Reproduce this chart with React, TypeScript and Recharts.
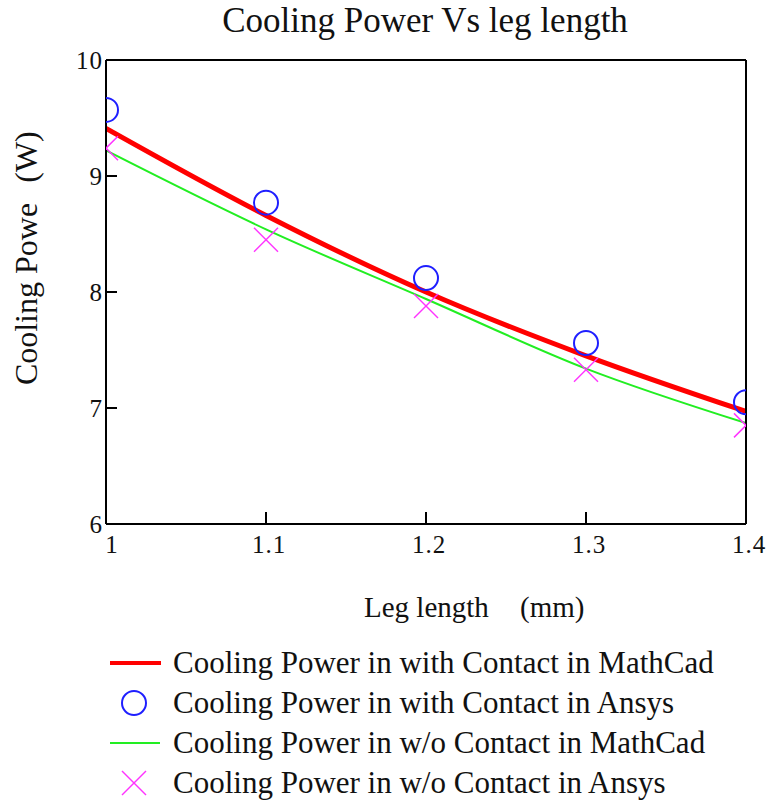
import { ComposedChart, Line, Scatter, XAxis, YAxis } from "recharts";

const legLength = [1, 1.1, 1.2, 1.3, 1.4];
const withContactMathCad = [9.41, 8.66, 8.0, 7.45, 6.97];
const withContactAnsys = [9.57, 8.77, 8.12, 7.56, 7.05];
const withoutContactMathCad = [9.22, 8.54, 7.94, 7.34, 6.87];
const withoutContactAnsys = [9.24, 8.45, 7.88, 7.33, 6.85];

const xTicks = [1, 1.1, 1.2, 1.3, 1.4];
const yTicks = [6, 7, 8, 9, 10];

const legendLabels = [
  "Cooling Power in with Contact in MathCad",
  "Cooling Power in with Contact in Ansys",
  "Cooling Power in w/o Contact in MathCad",
  "Cooling Power in w/o Contact in Ansys",
];

const toPoints = (ys: number[]) => legLength.map((x, i) => ({ x, y: ys[i] }));

const W = 766;
const H = 802;
const LEFT = 106;
const TOP = 60;
const RIGHT = 746;
const BOTTOM = 524;
const AX = 1; // thickness given to each axis box
const FONT = "Liberation Serif";
const txt = { fontFamily: FONT, fill: "#111" };

// ticks point into the plot, like MathCad does
const XTick = ({ x, payload }: any) => (
  <g>
    <line x1={x} y1={BOTTOM} x2={x} y2={BOTTOM - 12} stroke="#000" strokeWidth={2} />
    <text
      x={payload.value === 1 ? x + 6 : x + 3}
      y={BOTTOM + 29}
      textAnchor="middle"
      fontSize={25}
      letterSpacing={1}
      style={txt}
    >
      {payload.value}
    </text>
  </g>
);

const YTick = ({ y, payload }: any) => (
  <g>
    <line x1={LEFT} y1={y} x2={LEFT + 11} y2={y} stroke="#000" strokeWidth={2} />
    <text x={LEFT - 3} y={y + 9} textAnchor="end" fontSize={25} letterSpacing={1} style={txt}>
      {payload.value}
    </text>
  </g>
);

const Circle = ({ cx, cy }: any) => (
  <circle cx={cx} cy={cy} r={12} fill="none" stroke="#1f1fff" strokeWidth={2} />
);

const Cross = ({ cx, cy }: any) => (
  <g stroke="#ff33ff" strokeWidth={1.5}>
    <line x1={cx - 12} y1={cy - 12} x2={cx + 12} y2={cy + 12} />
    <line x1={cx - 12} y1={cy + 12} x2={cx + 12} y2={cy - 12} />
  </g>
);

export default function App() {
  return (
    <div style={{ position: "absolute", left: 0, top: 0, width: W, height: H, background: "#fff" }}>
      <ComposedChart
        width={W}
        height={H}
        margin={{
          top: TOP - AX,
          left: LEFT - AX,
          right: W - RIGHT - AX,
          bottom: H - BOTTOM - AX,
        }}
      >
        <XAxis
          xAxisId="b"
          type="number"
          dataKey="x"
          domain={[1, 1.4]}
          ticks={xTicks}
          allowDataOverflow
          height={AX}
          tickLine={false}
          tick={<XTick />}
          axisLine={{ stroke: "#000", strokeWidth: 2 }}
        />
        <XAxis
          xAxisId="t"
          orientation="top"
          type="number"
          dataKey="x"
          domain={[1, 1.4]}
          height={AX}
          tick={false}
          tickLine={false}
          axisLine={{ stroke: "#000", strokeWidth: 2 }}
        />
        <YAxis
          yAxisId="l"
          type="number"
          domain={[6, 10]}
          ticks={yTicks}
          allowDataOverflow
          width={AX}
          tickLine={false}
          tick={<YTick />}
          axisLine={{ stroke: "#000", strokeWidth: 2 }}
        />
        <YAxis
          yAxisId="r"
          orientation="right"
          type="number"
          domain={[6, 10]}
          width={AX}
          tick={false}
          tickLine={false}
          axisLine={{ stroke: "#000", strokeWidth: 2 }}
        />
        <Line
          xAxisId="b"
          yAxisId="l"
          data={toPoints(withoutContactMathCad)}
          dataKey="y"
          type="monotone"
          stroke="#22ee22"
          strokeWidth={2}
          dot={false}
          isAnimationActive={false}
        />
        <Line
          xAxisId="b"
          yAxisId="l"
          data={toPoints(withContactMathCad)}
          dataKey="y"
          type="monotone"
          stroke="#ff0000"
          strokeWidth={5}
          dot={false}
          isAnimationActive={false}
        />
        <Scatter
          xAxisId="b"
          yAxisId="l"
          data={toPoints(withContactAnsys)}
          dataKey="y"
          shape={<Circle />}
          isAnimationActive={false}
        />
        <Scatter
          xAxisId="b"
          yAxisId="l"
          data={toPoints(withoutContactAnsys)}
          dataKey="y"
          shape={<Cross />}
          isAnimationActive={false}
        />
      </ComposedChart>
      <svg
        width={W}
        height={H}
        style={{ position: "absolute", left: 0, top: 0, pointerEvents: "none" }}
      >
        <text x={425} y={32} textAnchor="middle" fontSize={35} style={txt}>
          Cooling Power Vs leg length
        </text>
        <text transform="translate(37 294) rotate(-90)" textAnchor="middle" fontSize={32} style={txt}>
          Cooling Powe
        </text>
        <text transform="translate(37 157) rotate(-90)" textAnchor="middle" fontSize={32} style={txt}>
          (W)
        </text>
        <text x={364} y={617} fontSize={29} style={txt}>
          Leg length
        </text>
        <text x={520} y={617} fontSize={29} style={txt}>
          (mm)
        </text>
        {legendLabels.map((label, i) => {
          const y = 663 + i * 40;
          return (
            <g key={label}>
              {i === 0 && <line x1={110} y1={y} x2={161} y2={y} stroke="#ff0000" strokeWidth={4} />}
              {i === 1 && <Circle cx={134} cy={y} />}
              {i === 2 && <line x1={110} y1={y} x2={160} y2={y} stroke="#22ee22" strokeWidth={2} />}
              {i === 3 && <Cross cx={134} cy={y} />}
              <text x={173} y={y + 10} fontSize={31} style={txt}>
                {label}
              </text>
            </g>
          );
        })}
      </svg>
    </div>
  );
}
